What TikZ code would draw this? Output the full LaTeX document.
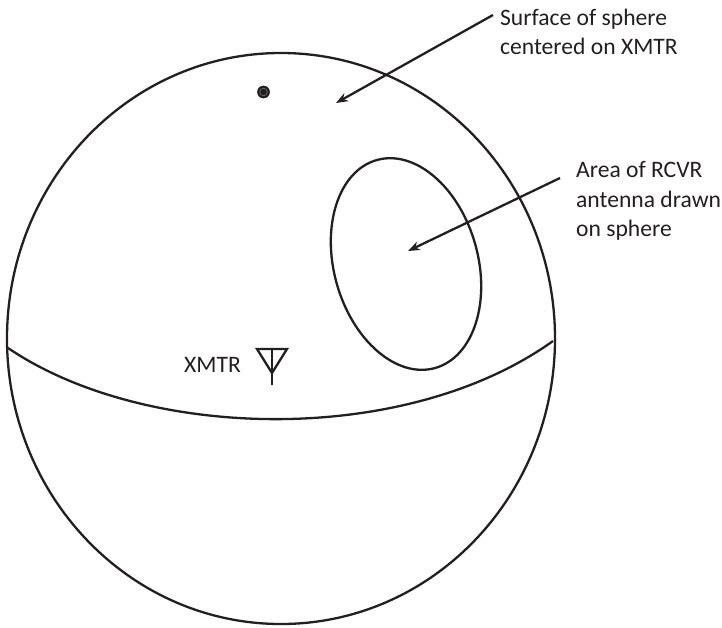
\documentclass[tikz,border=0pt]{standalone}
\usepackage{fontspec}
\setmainfont{Carlito}
\usetikzlibrary{arrows.meta,positioning,calc,shapes.geometric}
\definecolor{inkblack}{HTML}{231F20}

\begin{document}
\begin{tikzpicture}[x=1pt,y=-1pt,line width=2.3pt,color=inkblack,
description/.style={font=\fontsize{23.6}{29.5}\selectfont,inner sep=0pt,align=left,text=inkblack},
pointer/.style={-{Stealth[length=12pt,width=9pt]},line width=2.3pt}]
\useasboundingbox (0,0) rectangle (722,627);
\coordinate (c) at (281,338.5);
\node (sphere) [draw,ellipse,minimum width=548pt,minimum height=571pt,inner sep=0pt] at (c) {};
\coordinate (eqleft) at (8,348);
\coordinate (eqright) at (553,341);
\draw (eqleft) .. controls (145,441) and (405,447) .. (eqright);
\node (rcvrarea) [draw,ellipse,minimum width=144pt,minimum height=216pt,inner sep=0pt,rotate=15.6] at (406,264) {};
\node (dot) [draw,circle,fill=inkblack,minimum size=12pt,inner sep=0pt,line width=0.6pt] at (263.5,92) {};
\draw[line width=0.5pt,black!50] (dot) circle (3.8pt);
\node (surface) [description,anchor=west] at (499,32) {Surface of sphere\\centered on XMTR};
\node (area) [description,anchor=west] at (575,201) {Area of RCVR\\antenna drawn\\on sphere};
\node (xmtr) [description,anchor=base west] at (183,372) {XMTR};
\coordinate (surfstart) at (493,15);
\coordinate (surfend) at (336,103);
\coordinate (areastart) at (560,178);
\coordinate (areaend) at (408,251);
\path[pointer]
(surfstart) edge (surfend)
(areastart) edge (areaend)
;
\coordinate (tl) at (257,349);
\coordinate (tr) at (287,349);
\coordinate (ta) at (272,373);
\coordinate (tb) at (272,385);
\draw[miter limit=4] (tl) -- (tr) -- (ta) -- cycle;
\draw (272,349) -- (tb);
\end{tikzpicture}
\end{document}
